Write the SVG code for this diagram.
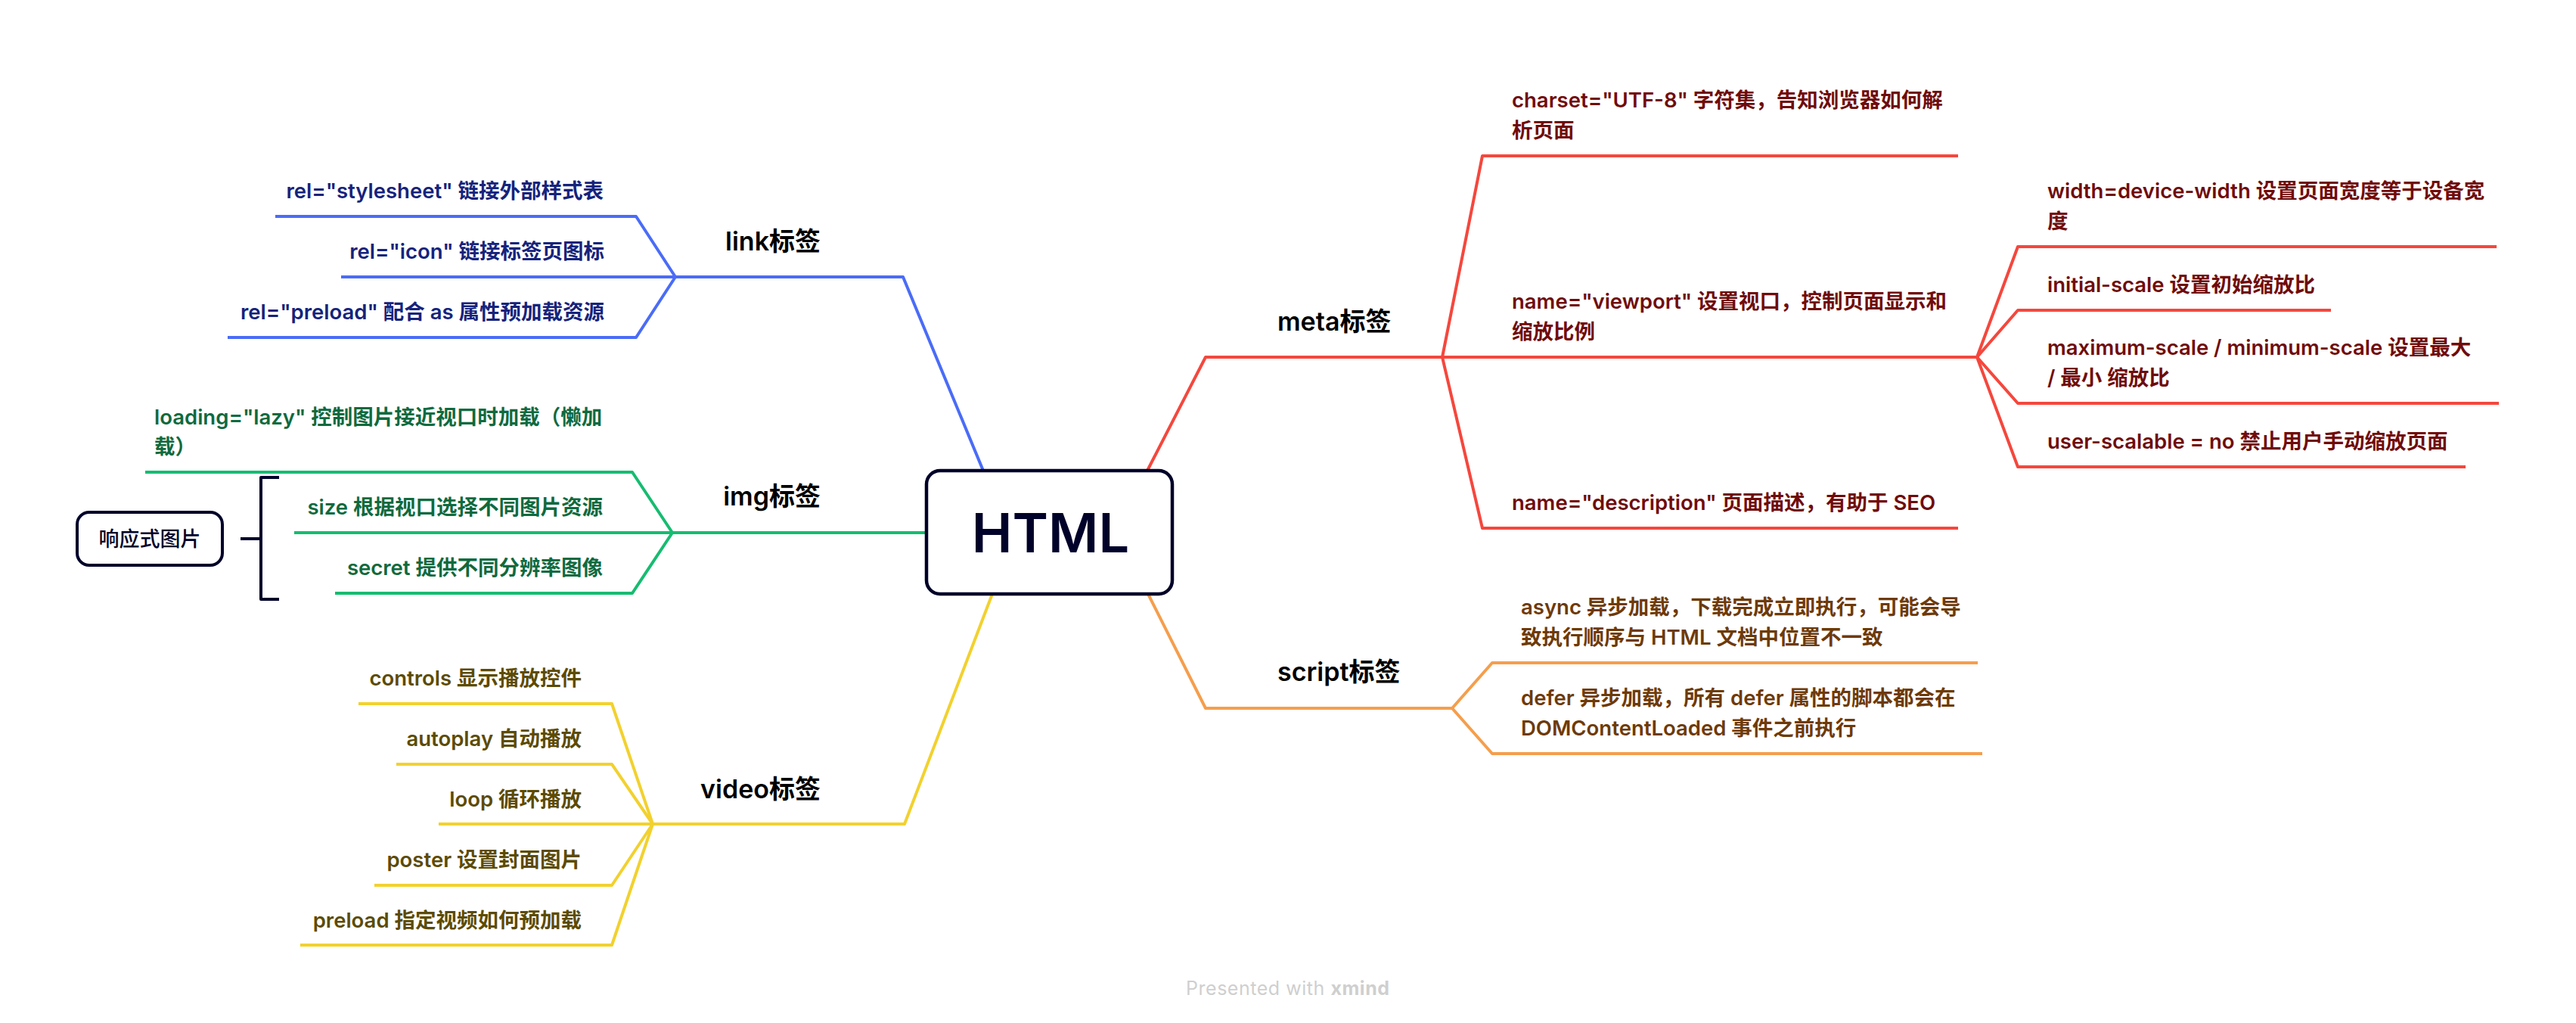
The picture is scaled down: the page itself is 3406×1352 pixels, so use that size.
<svg xmlns="http://www.w3.org/2000/svg" width="3406" height="1352" viewBox="0 0 3406 1352">
<style>
  text { font-family: Inter, "Noto Sans CJK SC", sans-serif; }
  .t { font-size: 27.5px; font-weight: 600; }
  .h { font-size: 34px; font-weight: 600; fill: #000000; }
  .c { fill: none; stroke-width: 4; stroke-linejoin: round; stroke-linecap: butt; }
  .blue { stroke: #4A6CF7; } .tblue { fill: #15237C; }
  .green { stroke: #16BC70; } .tgreen { fill: #0E6A3E; }
  .yellow { stroke: #F2D12E; } .tyellow { fill: #5C4B03; }
  .red { stroke: #F5473D; } .tred { fill: #700B0B; }
  .orange { stroke: #F59E4C; } .torange { fill: #6E3A08; }
  .navy { stroke: #000229; }
</style>
<rect x="0" y="0" width="3406" height="1352" fill="#FFFFFF"/>

<g id="connectors">
  <path class="c blue" d="M1300,622 L1194,366 L893,366"/>
  <path class="c blue" d="M893,366 L841,286 L364,286"/>
  <path class="c blue" d="M893,366 L451,366"/>
  <path class="c blue" d="M893,366 L841,446 L301,446"/>

  <path class="c green" d="M1225,704 L889,704"/>
  <path class="c green" d="M889,704 L836,624 L192,624"/>
  <path class="c green" d="M889,704 L389,704"/>
  <path class="c green" d="M889,704 L836,784 L443,784"/>

  <path class="c yellow" d="M1312,785 L1196,1089 L863,1089"/>
  <path class="c yellow" d="M863,1089 L809,930 L474,930"/>
  <path class="c yellow" d="M863,1089 L809,1010 L524,1010"/>
  <path class="c yellow" d="M863,1089 L580,1089"/>
  <path class="c yellow" d="M863,1089 L809,1170 L495,1170"/>
  <path class="c yellow" d="M863,1089 L809,1249 L397,1249"/>

  <path class="c red" d="M1517,622 L1594,472 L1907,472"/>
  <path class="c red" d="M1907,472 L1960,206 L2589,206"/>
  <path class="c red" d="M1907,472 L2614,472"/>
  <path class="c red" d="M1907,472 L1960,698 L2589,698"/>
  <path class="c red" d="M2614,472 L2668,326 L3301,326"/>
  <path class="c red" d="M2614,472 L2668,410 L3082,410"/>
  <path class="c red" d="M2614,472 L2668,533 L3304,533"/>
  <path class="c red" d="M2614,472 L2668,617 L3260,617"/>

  <path class="c orange" d="M1518,785 L1594,936 L1920,936"/>
  <path class="c orange" d="M1920,936 L1973,876 L2615,876"/>
  <path class="c orange" d="M1920,936 L1973,996 L2621,996"/>

  <path class="c navy" d="M369,631 L345,631 L345,792 L369,792 M345,712 L318,712"/>
</g>

<g id="root">
  <rect x="1225" y="622" width="325" height="163" rx="18" fill="#FFFFFF" stroke="#000229" stroke-width="4.5"/>
  <text x="1389" y="730" text-anchor="middle" font-size="72" font-weight="600" fill="#000229">HTML</text>
</g>

<g id="link">
  <text class="h" x="1085" y="331" text-anchor="end">link标签</text>
</g>
<g id="link-stylesheet"><text class="t tblue" x="798" y="262" text-anchor="end">rel="stylesheet" 链接外部样式表</text></g>
<g id="link-icon"><text class="t tblue" x="799" y="342" text-anchor="end">rel="icon" 链接标签页图标</text></g>
<g id="link-preload"><text class="t tblue" x="799" y="422" text-anchor="end">rel="preload" 配合 as 属性预加载资源</text></g>

<g id="img">
  <text class="h" x="1085" y="668" text-anchor="end">img标签</text>
</g>
<g id="img-loading">
  <text class="t tgreen" x="204" y="561">loading="lazy" 控制图片接近视口时加载（懒加</text>
  <text class="t tgreen" x="204" y="600">载）</text>
</g>
<g id="img-size"><text class="t tgreen" x="797" y="680" text-anchor="end">size 根据视口选择不同图片资源</text></g>
<g id="img-secret"><text class="t tgreen" x="797" y="760" text-anchor="end">secret 提供不同分辨率图像</text></g>
<g id="responsive">
  <rect x="102" y="677" width="192" height="70" rx="16" fill="#FFFFFF" stroke="#000229" stroke-width="4"/>
  <text x="198" y="722" text-anchor="middle" font-size="27" font-weight="500" fill="#000229">响应式图片</text>
</g>

<g id="video">
  <text class="h" x="1085" y="1055" text-anchor="end">video标签</text>
</g>
<g id="video-controls"><text class="t tyellow" x="769" y="906" text-anchor="end">controls 显示播放控件</text></g>
<g id="video-autoplay"><text class="t tyellow" x="769" y="986" text-anchor="end">autoplay 自动播放</text></g>
<g id="video-loop"><text class="t tyellow" x="769" y="1066" text-anchor="end">loop 循环播放</text></g>
<g id="video-poster"><text class="t tyellow" x="769" y="1146" text-anchor="end">poster 设置封面图片</text></g>
<g id="video-preload"><text class="t tyellow" x="769" y="1226" text-anchor="end">preload 指定视频如何预加载</text></g>

<g id="meta">
  <text class="h" x="1689" y="437">meta标签</text>
</g>
<g id="meta-charset">
  <text class="t tred" x="1999" y="142">charset="UTF-8" 字符集，告知浏览器如何解</text>
  <text class="t tred" x="1999" y="182">析页面</text>
</g>
<g id="meta-viewport">
  <text class="t tred" x="1999" y="408">name="viewport" 设置视口，控制页面显示和</text>
  <text class="t tred" x="1999" y="448">缩放比例</text>
</g>
<g id="meta-description"><text class="t tred" x="1999" y="674">name="description" 页面描述，有助于 SEO</text></g>
<g id="vp-width">
  <text class="t tred" x="2707" y="262">width=device-width 设置页面宽度等于设备宽</text>
  <text class="t tred" x="2707" y="302">度</text>
</g>
<g id="vp-initial"><text class="t tred" x="2707" y="386">initial-scale 设置初始缩放比</text></g>
<g id="vp-maximum">
  <text class="t tred" x="2707" y="469">maximum-scale / minimum-scale 设置最大</text>
  <text class="t tred" x="2707" y="509">/ 最小 缩放比</text>
</g>
<g id="vp-user"><text class="t tred" x="2707" y="593">user-scalable = no 禁止用户手动缩放页面</text></g>

<g id="script">
  <text class="h" x="1689" y="900">script标签</text>
</g>
<g id="script-async">
  <text class="t torange" x="2011" y="812">async 异步加载，下载完成立即执行，可能会导</text>
  <text class="t torange" x="2011" y="852">致执行顺序与 HTML 文档中位置不一致</text>
</g>
<g id="script-defer">
  <text class="t torange" x="2011" y="932">defer 异步加载，所有 defer 属性的脚本都会在</text>
  <text class="t torange" x="2011" y="972">DOMContentLoaded 事件之前执行</text>
</g>

<text x="1568" y="1315" font-family="Lato, sans-serif" font-size="25" fill="#CFCFCF" textLength="269">Presented with <tspan font-weight="700">xmind</tspan></text>
</svg>
